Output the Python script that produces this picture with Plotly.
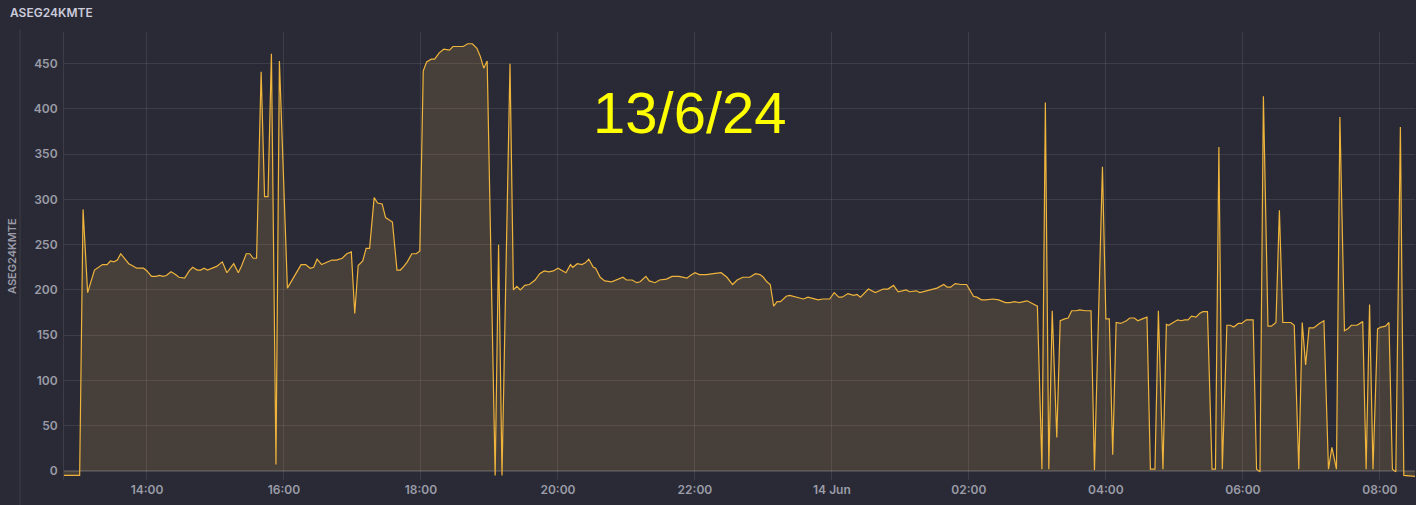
import pandas as pd
import plotly.graph_objects as go

# minutes after 2024-06-13 12:00
minutes = [47, 61, 64, 68, 74, 78, 81, 85, 88, 91, 94, 97, 101, 104, 107, 111, 117, 120, 124, 128,
           131, 134, 137, 141, 145, 148, 153, 157, 160, 164, 167, 170, 173, 177, 181, 186, 190, 193, 196, 200,
           203, 207, 210, 213, 216, 220, 223, 226, 229, 233, 236, 243, 247, 251, 255, 259, 263, 266, 269, 273,
           277, 282, 286, 291, 295, 299, 302, 305, 309, 312, 315, 319, 322, 326, 329, 332, 335, 339, 342, 345,
           348, 352, 356, 359, 362, 365, 369, 372, 376, 380, 385, 388, 393, 397, 401, 405, 409, 412, 415, 418,
           425, 428, 431, 438, 441, 444, 447, 451, 455, 460, 464, 468, 472, 476, 480, 484, 487, 491, 493, 497,
           501, 504, 507, 511, 513, 517, 521, 527, 531, 537, 540, 545, 549, 552, 557, 560, 565, 569, 575, 580,
           586, 593, 596, 600, 604, 610, 616, 623, 628, 630, 633, 637, 642, 648, 653, 657, 660, 663, 666, 669,
           672, 675, 680, 683, 689, 695, 699, 708, 712, 718, 722, 726, 729, 734, 739, 742, 745, 752, 758, 765,
           769, 774, 778, 785, 788, 794, 797, 803, 812, 818, 821, 824, 828, 833, 838, 844, 847, 851, 855, 861,
           866, 872, 876, 880, 884, 891, 895, 900, 904, 907, 910, 913, 917, 920, 924, 927, 930, 934, 937, 942,
           947, 950, 957, 960, 963, 966, 969, 973, 978, 981, 985, 988, 992, 996, 999, 1003, 1006, 1010, 1013, 1015,
           1019, 1023, 1026, 1029, 1032, 1035, 1039, 1042, 1045, 1049, 1053, 1056, 1059, 1062, 1066, 1069, 1072, 1076, 1079, 1083,
           1089, 1092, 1095, 1098, 1102, 1105, 1109, 1112, 1115, 1119, 1122, 1125, 1129, 1132, 1135, 1138, 1142, 1147, 1151, 1155,
           1158, 1162, 1165, 1169, 1172, 1175, 1180, 1185, 1188, 1191, 1194, 1198, 1201, 1205, 1208, 1211, 1214, 1218, 1221, 1231]

values = [-5, -5, 289, 197, 222, 225, 228, 228, 232, 231, 233, 240, 233, 229, 227, 224, 224, 221, 215, 215,
          216, 215, 216, 220, 217, 214, 213, 221, 225, 222, 222, 224, 222, 224, 226, 231, 219, 224, 229, 219,
          227, 240, 240, 235, 235, 441, 303, 303, 461, 7, 453, 202, 211, 220, 228, 228, 224, 225, 234, 228,
          230, 233, 233, 235, 240, 242, 174, 227, 232, 246, 246, 302, 296, 295, 280, 277, 275, 222, 222, 226,
          231, 240, 240, 243, 442, 452, 455, 455, 462, 466, 465, 469, 469, 469, 472, 472, 467, 458, 445, 453,
          -5, 250, -5, 450, 200, 204, 200, 205, 206, 211, 218, 221, 220, 221, 224, 221, 219, 228, 225, 229,
          228, 230, 234, 225, 224, 214, 210, 209, 211, 214, 211, 211, 208, 209, 215, 210, 208, 211, 212, 215,
          215, 213, 216, 219, 217, 217, 218, 219, 214, 211, 206, 211, 214, 214, 218, 217, 214, 209, 206, 182,
          187, 187, 193, 194, 192, 190, 192, 189, 190, 190, 197, 192, 192, 196, 194, 195, 192, 201, 197, 201,
          201, 205, 198, 200, 198, 199, 197, 199, 202, 206, 203, 203, 207, 206, 206, 193, 192, 189, 189, 190,
          189, 186, 186, 187, 186, 188, 185, 182, 2, 407, 2, 177, 37, 166, 168, 169, 177, 177, 178, 177,
          177, 1, 336, 168, 168, 18, 164, 163, 166, 169, 169, 166, 168, 170, 2, 2, 177, 2, 162, 161,
          164, 167, 166, 167, 167, 171, 170, 174, 176, 176, 2, 2, 358, 2, 161, 161, 159, 163, 163, 167,
          167, 2, -1, 414, 160, 160, 164, 288, 164, 164, 164, 161, 2, 164, 117, 158, 158, 163, 166, 2,
          26, 2, 391, 155, 157, 161, 161, 165, 2, 184, 2, 157, 159, 160, 164, 2, -1, 380, -5, -6]

tick_minutes = [120, 240, 360, 480, 600, 720, 840, 960, 1080, 1200]
tick_labels = ["14:00", "16:00", "18:00", "20:00", "22:00", "14 Jun", "02:00", "04:00", "06:00", "08:00"]
y_ticks = [0, 50, 100, 150, 200, 250, 300, 350, 400, 450]

series_name = "ASEG24KMTE"
date_label = "13/6/24"

base = pd.Timestamp("2024-06-13 12:00")
times = base + pd.to_timedelta(minutes, unit="min")
tick_times = base + pd.to_timedelta(tick_minutes, unit="min")
x_range = [base + pd.Timedelta(minutes=47.3), base + pd.Timedelta(minutes=1230.8)]

BG = "#292a35"
GRID = "rgba(255,255,255,0.09)"
LINE = "#EFB43C"
TICKFONT = dict(family="Inter, Roboto, sans-serif", size=12, color="#9b9ca8", weight=600)

fig = go.Figure()
fig.add_trace(go.Scatter(
    x=times, y=values, mode="lines", name=series_name,
    line=dict(color=LINE, width=1.2),
    fill="tozeroy", fillcolor="rgba(250,190,80,0.15)",
    showlegend=False,
))

fig.update_layout(
    width=1416, height=505,
    paper_bgcolor=BG, plot_bgcolor=BG,
    margin=dict(l=64, r=1, t=32, b=25),
    title=dict(text=series_name, x=10 / 1416, xanchor="left", xref="container",
               y=1 - 13 / 505, yanchor="middle", yref="container",
               font=dict(family="Inter, sans-serif", size=12, color="#ccccdc", weight=600)),
    xaxis=dict(
        type="date", range=x_range, tickvals=tick_times, ticktext=tick_labels,
        showgrid=True, gridcolor=GRID, gridwidth=1,
        ticks="", ticklabelstandoff=1,
        tickfont=TICKFONT, zeroline=False, showline=False,
    ),
    yaxis=dict(
        range=[-10, 485], tickvals=y_ticks,
        showgrid=True, gridcolor=GRID, gridwidth=1,
        ticks="", tickfont=TICKFONT, ticklabelstandoff=3,
        zeroline=True, zerolinecolor="rgba(255,255,255,0.14)", zerolinewidth=2,
        showline=True, linecolor=GRID, linewidth=1,
    ),
    annotations=[
        dict(text=series_name, xref="paper", yref="paper", x=0, y=0.5,
             xshift=-52, textangle=-90, showarrow=False, xanchor="center", yanchor="middle",
             font=dict(family="Inter, sans-serif", size=11, color="#9b9ca8", weight=600)),
        dict(text=date_label, xref="paper", yref="paper", x=(690 - 64) / 1351, y=(480 - 112) / 448,
             showarrow=False, xanchor="center", yanchor="middle",
             font=dict(family="Liberation Sans, Arial, sans-serif", size=58, color="#FFFF00")),
    ],
    shapes=[
        dict(type="line", xref="paper", yref="paper", x0=(20 - 64) / 1351, x1=(20 - 64) / 1351,
             y0=-25 / 448, y1=1.005, line=dict(color=GRID, width=1)),
    ],
)

fig.write_html(
    "out.html",
    config={"displayModeBar": False},
    post_script="document.body.style.margin='0';document.body.style.overflow='hidden';",
)
